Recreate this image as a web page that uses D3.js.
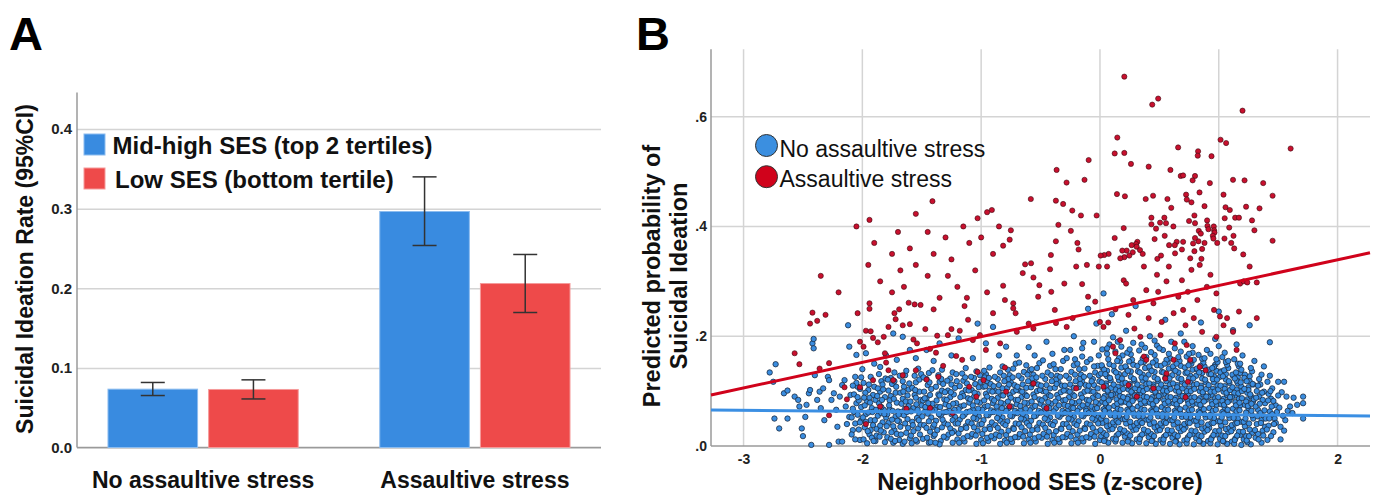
<!DOCTYPE html>
<html>
<head>
<meta charset="utf-8">
<script src="https://cdn.jsdelivr.net/npm/d3@7.9.0/dist/d3.min.js"></script>
<style>
  body { margin: 0; background: #fff; }
  svg { display: block; font-family: "Liberation Sans", Arial, sans-serif; }
</style>
</head>
<body>
<svg id="chart" width="1378" height="497"></svg>
<script>
// ---- panel A data ----
const groups = ["No assaultive stress", "Assaultive stress"];
const sesLevels = ["Mid-high SES (top 2 tertiles)", "Low SES (bottom tertile)"];
const rates = [[0.0733, 0.0729], [0.2965, 0.206]];
const ciLow = [[0.0653, 0.061], [0.2538, 0.1696]];
const ciHigh = [[0.0817, 0.085], [0.34, 0.2425]];
const rateTicks = [0, 0.1, 0.2, 0.3, 0.4];

// ---- panel B data ----
const sesTicks = [-3, -2, -1, 0, 1, 2];
const probTicks = [0, 0.2, 0.4, 0.6];
const stressLabels = ["No assaultive stress", "Assaultive stress"];
const fitNoStress = [[-3.274, 0.0656], [2.273, 0.0546]];
const fitStress = [[-3.274, 0.093], [2.273, 0.352]];

const noStressPoints = [
  // left tail
  [-2.78,.134],[-2.73,.149],[-2.75,.117],[-2.74,.05],[-2.70,.032],[-2.66,.096],[-2.63,.101],[-2.63,.05],[-2.57,.09],[-2.54,.084],
  [-2.53,.072],[-2.51,.032],[-2.50,.018],[-2.48,.053],[-2.47,.075],[-2.45,.096],[-2.44,.102],[-2.43,.002],[-2.42,.187],[-2.41,.195],
  [-2.41,.178],[-2.40,.129],[-2.38,.084],[-2.36,.099],[-2.35,.069],[-2.32,.047],[-2.29,.126],[-2.28,.12],[-2.26,.084],[-2.28,.002],
  [-2.24,.096],[-2.22,.066],[-2.21,.035],[-2.20,.008],[-2.17,.008],[-2.17,.111],[-2.14,.072],[-2.11,.053],[-2.10,.093],[-2.08,.029],
  [-2.06,.126],[-2.05,.078],[-2.04,.108],[-2.02,.011],[-2.01,.047],[-2.13,.04],[-2.19,.09],[-2.33,.105],[-2.07,.062],[-2.15,.12],
  [-2.09,.021],[-2.08,.068],[-2.07,.094],[-2.06,.041],[-2.05,.115],[-2.04,.057],[-2.03,.083],[-2.03,.03],[-2.02,.104],[-2.01,.071],
  [-2.09,.052],[-2.06,.012],[-2.04,.089],[-2.01,.125],[-2.08,.11],[-2.02,.043],
  // core
  [-1.99,.012],[-1.98,.034],[-1.97,.058],[-1.96,.081],[-1.95,.102],[-1.94,.021],[-1.93,.047],[-1.92,.069],[-1.91,.093],[-1.99,.115],
  [-1.96,.005],[-1.93,.126],[-1.91,.038],[-1.98,.074],[-1.94,.088],[-1.92,.015],[-1.95,.061],[-1.97,.044],[-1.90,.108],[-1.93,.029],
  [-1.89,.009],[-1.88,.031],[-1.87,.055],[-1.86,.078],[-1.85,.099],[-1.84,.118],[-1.83,.043],[-1.82,.066],[-1.81,.089],[-1.88,.019],
  [-1.86,.131],[-1.84,.071],[-1.82,.025],[-1.80,.052],[-1.87,.105],[-1.85,.037],[-1.83,.112],[-1.81,.007],[-1.89,.084],[-1.84,.060],
  [-1.79,.016],[-1.78,.042],[-1.77,.067],[-1.76,.091],[-1.75,.113],[-1.74,.006],[-1.73,.029],[-1.72,.054],[-1.71,.079],[-1.78,.101],
  [-1.76,.124],[-1.74,.036],[-1.72,.097],[-1.70,.063],[-1.77,.083],[-1.75,.048],[-1.73,.118],[-1.71,.022],[-1.79,.058],[-1.73,.134],[-1.76,.013],
  [-1.69,.011],[-1.68,.035],[-1.67,.062],[-1.66,.086],[-1.65,.108],[-1.64,.129],[-1.63,.024],[-1.62,.049],[-1.61,.073],[-1.68,.097],
  [-1.66,.118],[-1.64,.041],[-1.62,.092],[-1.60,.014],[-1.67,.077],[-1.65,.056],[-1.63,.137],[-1.61,.103],[-1.69,.045],[-1.64,.068],[-1.66,.004],
  [-1.59,.019],[-1.58,.044],[-1.57,.069],[-1.56,.093],[-1.55,.116],[-1.54,.008],[-1.53,.032],[-1.52,.058],[-1.51,.084],[-1.58,.106],
  [-1.56,.128],[-1.54,.051],[-1.52,.121],[-1.50,.074],[-1.57,.027],[-1.55,.088],[-1.53,.141],[-1.51,.039],[-1.59,.063],[-1.55,.011],[-1.52,.099],
  [-1.49,.013],[-1.48,.038],[-1.47,.064],[-1.46,.087],[-1.45,.111],[-1.44,.133],[-1.43,.026],[-1.42,.052],[-1.41,.077],[-1.48,.099],
  [-1.46,.122],[-1.44,.045],[-1.42,.104],[-1.40,.018],[-1.47,.071],[-1.45,.059],[-1.43,.093],[-1.41,.138],[-1.49,.083],[-1.44,.006],[-1.46,.033],
  [-1.39,.021],[-1.38,.046],[-1.37,.071],[-1.36,.094],[-1.35,.117],[-1.34,.009],[-1.33,.034],[-1.32,.061],[-1.31,.085],[-1.38,.108],
  [-1.36,.129],[-1.34,.055],[-1.32,.113],[-1.30,.076],[-1.37,.029],[-1.35,.092],[-1.33,.139],[-1.31,.042],[-1.39,.066],[-1.35,.003],[-1.33,.101],
  [-1.29,.015],[-1.28,.039],[-1.27,.065],[-1.26,.089],[-1.25,.112],[-1.24,.134],[-1.23,.027],[-1.22,.053],[-1.21,.078],[-1.28,.101],
  [-1.26,.123],[-1.24,.047],[-1.22,.106],[-1.20,.012],[-1.27,.073],[-1.25,.058],[-1.23,.094],[-1.21,.131],[-1.29,.084],[-1.24,.006],[-1.26,.032],
  [-1.19,.023],[-1.18,.048],[-1.17,.072],[-1.16,.096],[-1.15,.119],[-1.14,.008],[-1.13,.036],[-1.12,.062],[-1.11,.087],[-1.18,.109],
  [-1.16,.132],[-1.14,.057],[-1.12,.114],[-1.10,.079],[-1.17,.031],[-1.15,.091],[-1.13,.142],[-1.11,.044],[-1.19,.067],[-1.15,.014],[-1.13,.102],
  [-1.09,.017],[-1.08,.041],[-1.07,.066],[-1.06,.09],[-1.05,.113],[-1.04,.136],[-1.03,.028],[-1.02,.054],[-1.01,.079],[-1.08,.102],
  [-1.06,.124],[-1.04,.049],[-1.02,.107],[-1.00,.011],[-1.07,.074],[-1.05,.059],[-1.03,.095],[-1.01,.129],[-1.09,.085],[-1.04,.004],[-1.06,.034],
  [-.99,.022],[-.98,.047],[-.97,.071],[-.96,.095],[-.95,.118],[-.94,.009],[-.93,.035],[-.92,.061],[-.91,.086],[-.98,.108],
  [-.96,.131],[-.94,.056],[-.92,.113],[-.90,.078],[-.97,.03],[-.95,.09],[-.93,.143],[-.91,.043],[-.99,.066],[-.95,.015],[-.93,.101],[-.97,.125],
  [-.89,.014],[-.88,.038],[-.87,.064],[-.86,.088],[-.85,.111],[-.84,.134],[-.83,.026],[-.82,.052],[-.81,.077],[-.88,.1],
  [-.86,.122],[-.84,.046],[-.82,.105],[-.80,.01],[-.87,.072],[-.85,.057],[-.83,.093],[-.81,.128],[-.89,.083],[-.84,.004],[-.86,.033],[-.82,.145],
  [-.79,.02],[-.78,.045],[-.77,.069],[-.76,.093],[-.75,.116],[-.74,.007],[-.73,.033],[-.72,.059],[-.71,.084],[-.78,.106],
  [-.76,.129],[-.74,.054],[-.72,.111],[-.70,.076],[-.77,.028],[-.75,.088],[-.73,.141],[-.71,.041],[-.79,.064],[-.75,.013],[-.73,.099],[-.77,.122],[-.71,.15],
  [-.69,.016],[-.68,.04],[-.67,.065],[-.66,.089],[-.65,.112],[-.64,.135],[-.63,.027],[-.62,.053],[-.61,.078],[-.68,.101],
  [-.66,.123],[-.64,.048],[-.62,.106],[-.60,.012],[-.67,.073],[-.65,.058],[-.63,.094],[-.61,.13],[-.69,.084],[-.64,.005],[-.66,.034],[-.62,.147],[-.68,.152],
  [-.59,.021],[-.58,.046],[-.57,.07],[-.56,.094],[-.55,.117],[-.54,.008],[-.53,.034],[-.52,.06],[-.51,.085],[-.58,.107],
  [-.56,.13],[-.54,.055],[-.52,.112],[-.50,.077],[-.57,.029],[-.55,.089],[-.53,.142],[-.51,.042],[-.59,.065],[-.55,.014],[-.53,.1],[-.57,.123],[-.51,.151],[-.59,.138],
  [-.49,.015],[-.48,.039],[-.47,.064],[-.46,.088],[-.45,.111],[-.44,.134],[-.43,.026],[-.42,.052],[-.41,.077],[-.48,.1],
  [-.46,.122],[-.44,.047],[-.42,.105],[-.40,.011],[-.47,.072],[-.45,.057],[-.43,.093],[-.41,.129],[-.49,.083],[-.44,.004],[-.46,.033],[-.42,.146],[-.48,.156],[-.44,.068],
  [-.39,.02],[-.38,.044],[-.37,.069],[-.36,.093],[-.35,.116],[-.34,.007],[-.33,.032],[-.32,.058],[-.31,.083],[-.38,.106],
  [-.36,.128],[-.34,.053],[-.32,.11],[-.30,.075],[-.37,.027],[-.35,.087],[-.33,.14],[-.31,.04],[-.39,.063],[-.35,.013],[-.33,.098],[-.37,.121],[-.31,.155],[-.39,.149],
  [-.29,.016],[-.28,.04],[-.27,.065],[-.26,.089],[-.25,.112],[-.24,.135],[-.23,.027],[-.22,.053],[-.21,.078],[-.28,.101],
  [-.26,.123],[-.24,.048],[-.22,.106],[-.20,.012],[-.27,.073],[-.25,.058],[-.23,.094],[-.21,.13],[-.29,.084],[-.24,.005],[-.26,.034],[-.22,.147],[-.28,.16],[-.24,.069],[-.21,.158],
  [-.19,.021],[-.18,.045],[-.17,.07],[-.16,.094],[-.15,.117],[-.14,.008],[-.13,.033],[-.12,.059],[-.11,.084],[-.18,.107],
  [-.16,.13],[-.14,.054],[-.12,.111],[-.10,.076],[-.17,.028],[-.15,.088],[-.13,.141],[-.11,.041],[-.19,.064],[-.15,.014],[-.13,.099],[-.17,.122],[-.11,.153],[-.19,.15],[-.15,.163],[-.12,.068],
  [-.09,.015],[-.08,.039],[-.07,.064],[-.06,.088],[-.05,.111],[-.04,.134],[-.03,.026],[-.02,.052],[-.01,.077],[-.08,.1],
  [-.06,.122],[-.04,.047],[-.02,.105],[.00,.011],[-.07,.072],[-.05,.057],[-.03,.093],[-.01,.129],[-.09,.083],[-.04,.004],[-.06,.033],[-.02,.146],[-.08,.158],[-.04,.068],[-.01,.165],[-.07,.118],
  [.01,.018],[.02,.042],[.03,.067],[.04,.091],[.05,.114],[.06,.137],[.07,.006],[.08,.03],[.09,.056],[.02,.081],
  [.04,.104],[.06,.127],[.08,.149],[.01,.05],[.03,.024],[.05,.075],[.07,.098],[.09,.12],[.02,.143],[.04,.012],
  [.06,.036],[.08,.062],[.03,.087],[.05,.11],[.07,.158],[.09,.088],[.01,.132],[.06,.168],[.09,.038],[.04,.064],
  [.11,.013],[.12,.037],[.13,.061],[.14,.085],[.15,.108],[.16,.131],[.17,.154],[.18,.025],[.19,.049],[.12,.073],
  [.14,.097],[.16,.12],[.18,.143],[.11,.043],[.13,.008],[.15,.068],[.17,.091],[.19,.114],[.12,.137],[.14,.019],
  [.16,.055],[.18,.079],[.13,.103],[.15,.126],[.17,.031],[.19,.165],[.11,.094],[.16,.16],[.14,.046],[.19,.006],
  [.21,.017],[.22,.041],[.23,.066],[.24,.09],[.25,.113],[.26,.136],[.27,.005],[.28,.029],[.29,.055],[.22,.08],
  [.24,.103],[.26,.126],[.28,.148],[.21,.049],[.23,.023],[.25,.074],[.27,.097],[.29,.119],[.22,.142],[.24,.011],
  [.26,.035],[.28,.061],[.23,.086],[.25,.109],[.27,.157],[.29,.087],[.21,.131],[.26,.167],[.29,.037],[.24,.063],
  [.31,.012],[.32,.036],[.33,.06],[.34,.084],[.35,.107],[.36,.13],[.37,.153],[.38,.024],[.39,.048],[.32,.072],
  [.34,.096],[.36,.119],[.38,.142],[.31,.042],[.33,.007],[.35,.067],[.37,.09],[.39,.113],[.32,.136],[.34,.018],
  [.36,.054],[.38,.078],[.33,.102],[.35,.125],[.37,.03],[.39,.162],[.31,.093],[.36,.159],[.34,.045],[.39,.005],
  [.41,.016],[.42,.04],[.43,.065],[.44,.089],[.45,.112],[.46,.135],[.47,.004],[.48,.028],[.49,.054],[.42,.079],
  [.44,.102],[.46,.125],[.48,.147],[.41,.048],[.43,.022],[.45,.073],[.47,.096],[.49,.118],[.42,.141],[.44,.01],
  [.46,.034],[.48,.06],[.43,.085],[.45,.108],[.47,.156],[.49,.086],[.41,.13],[.46,.166],[.49,.036],[.44,.062],
  [.51,.011],[.52,.035],[.53,.059],[.54,.083],[.55,.106],[.56,.129],[.57,.152],[.58,.023],[.59,.047],[.52,.071],
  [.54,.095],[.56,.118],[.58,.141],[.51,.041],[.53,.006],[.55,.066],[.57,.089],[.59,.112],[.52,.135],[.54,.017],
  [.56,.053],[.58,.077],[.53,.101],[.55,.124],[.57,.029],[.59,.16],[.51,.092],[.56,.157],[.54,.044],[.59,.004],
  [.61,.015],[.62,.039],[.63,.064],[.64,.088],[.65,.111],[.66,.134],[.67,.003],[.68,.027],[.69,.053],[.62,.078],
  [.64,.101],[.66,.124],[.68,.146],[.61,.047],[.63,.021],[.65,.072],[.67,.095],[.69,.117],[.62,.14],[.64,.009],
  [.66,.033],[.68,.059],[.63,.084],[.65,.107],[.67,.155],[.69,.085],[.61,.129],[.66,.162],[.69,.035],[.64,.061],
  [.71,.01],[.72,.034],[.73,.058],[.74,.082],[.75,.105],[.76,.128],[.77,.15],[.78,.022],[.79,.046],[.72,.07],
  [.74,.094],[.76,.117],[.78,.139],[.71,.04],[.73,.005],[.75,.065],[.77,.088],[.79,.111],[.72,.133],[.74,.016],
  [.76,.052],[.78,.076],[.73,.1],[.75,.123],[.77,.028],[.79,.157],[.71,.091],[.76,.154],[.74,.043],[.79,.003],
  [.81,.014],[.82,.038],[.83,.063],[.84,.087],[.85,.11],[.86,.133],[.87,.004],[.88,.026],[.89,.052],[.82,.077],
  [.84,.1],[.86,.123],[.88,.145],[.81,.046],[.83,.02],[.85,.071],[.87,.094],[.89,.116],[.82,.139],[.84,.008],
  [.86,.032],[.88,.058],[.83,.083],[.85,.106],[.87,.152],[.89,.084],[.81,.128],[.86,.159],[.89,.034],[.84,.06],
  [.91,.009],[.92,.033],[.93,.057],[.94,.081],[.95,.104],[.96,.127],[.97,.148],[.98,.021],[.99,.045],[.92,.069],
  [.94,.093],[.96,.116],[.98,.137],[.91,.039],[.93,.005],[.95,.064],[.97,.087],[.99,.11],[.92,.131],[.94,.015],
  [.96,.051],[.98,.075],[.93,.099],[.95,.122],[.97,.027],[.99,.153],[.91,.09],[.96,.144],[.94,.042],[.99,.003],
  [1.01,.013],[1.02,.037],[1.03,.062],[1.04,.086],[1.05,.109],[1.06,.131],[1.07,.004],[1.08,.025],[1.09,.051],[1.02,.076],
  [1.04,.099],[1.06,.121],[1.08,.142],[1.01,.045],[1.03,.019],[1.05,.07],[1.07,.093],[1.09,.115],[1.02,.136],[1.04,.008],
  [1.06,.031],[1.08,.057],[1.03,.082],[1.05,.104],[1.07,.148],[1.09,.083],[1.01,.126],[1.06,.153],[1.09,.033],[1.04,.059],
  [1.11,.008],[1.12,.032],[1.13,.056],[1.14,.08],[1.15,.103],[1.16,.125],[1.17,.145],[1.18,.02],[1.19,.044],[1.12,.068],
  [1.14,.092],[1.16,.114],[1.18,.133],[1.11,.038],[1.13,.004],[1.15,.063],[1.17,.086],[1.19,.108],[1.12,.128],[1.14,.014],
  [1.16,.05],[1.18,.074],[1.13,.097],[1.15,.119],[1.17,.026],[1.19,.139],[1.11,.089],[1.16,.15],[1.14,.041],[1.19,.002],
  [1.21,.012],[1.22,.036],[1.23,.061],[1.24,.085],[1.25,.107],[1.26,.127],[1.27,.003],[1.28,.024],[1.29,.05],[1.22,.075],
  [1.24,.097],[1.26,.118],[1.28,.136],[1.21,.044],[1.23,.018],[1.25,.069],[1.27,.091],[1.29,.112],[1.22,.13],[1.24,.007],
  [1.26,.03],[1.28,.056],[1.23,.081],[1.25,.102],[1.27,.142],[1.29,.082],
  [1.31,.015],[1.32,.04],[1.33,.066],[1.34,.09],[1.35,.112],[1.36,.006],[1.37,.028],[1.38,.054],[1.39,.078],[1.32,.1],
  [1.34,.122],[1.36,.047],[1.38,.099],[1.31,.072],[1.33,.022],[1.35,.06],[1.37,.084],[1.39,.035],[1.36,.13],[1.33,.11],
  [1.41,.011],[1.42,.037],[1.43,.063],[1.44,.086],[1.45,.105],[1.46,.025],[1.47,.05],[1.48,.074],[1.42,.095],[1.44,.018],
  [1.46,.082],[1.48,.042],[1.41,.117],[1.43,.128],[1.45,.058],
  // core, second pass
  [-1.995,.052],[-1.975,.097],[-1.955,.027],[-1.935,.079],[-1.915,.062],[-1.905,.009],[-1.985,.088],[-1.945,.112],
  [-1.895,.047],[-1.875,.091],[-1.855,.017],[-1.835,.084],[-1.815,.058],[-1.805,.123],[-1.885,.066],[-1.845,.028],[-1.825,.103],
  [-1.795,.036],[-1.775,.074],[-1.755,.025],[-1.735,.086],[-1.715,.108],[-1.705,.046],[-1.785,.121],[-1.745,.064],[-1.725,.009],
  [-1.695,.057],[-1.675,.021],[-1.655,.099],[-1.635,.081],[-1.615,.033],[-1.605,.114],[-1.685,.128],[-1.645,.008],[-1.625,.062],
  [-1.595,.081],[-1.575,.038],[-1.555,.102],[-1.535,.066],[-1.515,.021],[-1.505,.131],[-1.585,.005],[-1.545,.076],[-1.525,.047],
  [-1.495,.054],[-1.475,.087],[-1.455,.015],[-1.435,.116],[-1.415,.065],[-1.405,.035],[-1.485,.125],[-1.445,.078],[-1.425,.007],
  [-1.395,.039],[-1.375,.083],[-1.355,.058],[-1.335,.122],[-1.315,.017],[-1.305,.098],[-1.385,.006],[-1.345,.071],[-1.325,.048],
  [-1.295,.062],[-1.275,.021],[-1.255,.098],[-1.235,.077],[-1.215,.041],[-1.205,.118],[-1.285,.119],[-1.245,.024],[-1.225,.066],
  [-1.195,.041],[-1.175,.089],[-1.155,.054],[-1.135,.125],[-1.115,.018],[-1.105,.101],[-1.185,.006],[-1.145,.074],[-1.125,.033],
  [-1.095,.063],[-1.075,.022],[-1.055,.097],[-1.035,.081],[-1.015,.039],[-1.005,.117],[-1.085,.126],[-1.045,.019],[-1.025,.068],[-1.065,.051],
  [-.995,.04],[-.975,.083],[-.955,.056],[-.935,.124],[-.915,.018],[-.905,.099],[-.985,.005],[-.945,.073],[-.925,.031],[-.965,.109],[-.915,.065],[-.975,.137],
  [-.895,.062],[-.875,.021],[-.855,.099],[-.835,.079],[-.815,.041],[-.805,.118],[-.885,.126],[-.845,.018],[-.825,.069],[-.865,.051],[-.815,.092],[-.895,.109],
  [-.795,.038],[-.775,.081],[-.755,.055],[-.735,.125],[-.715,.016],[-.705,.102],[-.785,.006],[-.745,.072],[-.725,.031],[-.765,.112],[-.715,.064],[-.775,.139],
  [-.695,.06],[-.675,.022],[-.655,.099],[-.635,.079],[-.615,.042],[-.605,.118],[-.685,.128],[-.645,.017],[-.625,.068],[-.665,.05],[-.615,.091],[-.695,.108],
  [-.595,.037],[-.575,.081],[-.555,.054],[-.535,.125],[-.515,.017],[-.505,.102],[-.585,.006],[-.545,.073],[-.525,.03],[-.565,.113],[-.515,.064],[-.575,.14],
  [-.495,.061],[-.475,.022],[-.455,.099],[-.435,.08],[-.415,.04],[-.405,.118],[-.485,.128],[-.445,.017],[-.425,.069],[-.465,.05],[-.415,.091],[-.495,.11],
  [-.395,.038],[-.375,.081],[-.355,.055],[-.335,.126],[-.315,.016],[-.305,.101],[-.385,.006],[-.345,.074],[-.325,.031],[-.365,.113],[-.315,.064],[-.375,.14],
  [-.295,.06],[-.275,.022],[-.255,.099],[-.235,.08],[-.215,.041],[-.205,.118],[-.285,.128],[-.245,.017],[-.225,.069],[-.265,.05],[-.215,.091],[-.295,.11],
  [-.195,.038],[-.175,.081],[-.155,.055],[-.135,.126],[-.115,.016],[-.105,.101],[-.185,.006],[-.145,.074],[-.125,.031],[-.165,.113],[-.115,.064],[-.175,.14],
  [-.095,.06],[-.075,.022],[-.055,.099],[-.035,.08],[-.015,.041],[-.005,.118],[-.085,.128],[-.045,.017],[-.025,.069],[-.065,.05],[-.015,.091],[-.095,.11],[-.05,.145],
  [.005,.029],[.025,.055],[.045,.078],[.065,.101],[.085,.124],[.015,.147],[.035,.009],[.055,.046],[.075,.07],[.095,.093],[.015,.116],[.035,.139],[.055,.02],[.075,.083],[.095,.106],[.045,.131],
  [.105,.031],[.125,.054],[.145,.077],[.165,.1],[.185,.123],[.115,.146],[.135,.012],[.155,.043],[.175,.066],[.195,.089],[.115,.112],[.135,.134],[.155,.022],[.175,.081],[.195,.104],[.145,.155],
  [.205,.028],[.225,.053],[.245,.076],[.265,.099],[.285,.122],[.215,.145],[.235,.008],[.255,.044],[.275,.068],[.295,.092],[.215,.115],[.235,.137],[.255,.019],[.275,.082],[.295,.105],[.245,.154],
  [.305,.03],[.325,.054],[.345,.077],[.365,.1],[.385,.123],[.315,.146],[.335,.013],[.355,.042],[.375,.066],[.395,.089],[.315,.112],[.335,.134],[.355,.021],[.375,.081],[.395,.104],[.345,.152],
  [.405,.027],[.425,.052],[.445,.076],[.465,.099],[.485,.122],[.415,.145],[.435,.009],[.455,.043],[.475,.067],[.495,.091],[.415,.114],[.435,.137],[.455,.018],[.475,.082],[.495,.105],[.445,.152],
  [.505,.029],[.525,.053],[.545,.077],[.565,.1],[.585,.123],[.515,.146],[.535,.012],[.555,.042],[.575,.066],[.595,.089],[.515,.112],[.535,.134],[.555,.02],[.575,.081],[.595,.104],[.545,.15],
  [.605,.028],[.625,.052],[.645,.076],[.665,.099],[.685,.122],[.615,.145],[.635,.008],[.655,.043],[.675,.067],[.695,.091],[.615,.114],[.635,.137],[.655,.018],[.675,.082],[.695,.105],[.645,.15],
  [.705,.03],[.725,.053],[.745,.077],[.765,.1],[.785,.123],[.715,.143],[.735,.012],[.755,.042],[.775,.066],[.795,.089],[.715,.112],[.735,.134],[.755,.02],[.775,.081],[.795,.104],[.745,.147],
  [.805,.027],[.825,.052],[.845,.075],[.865,.098],[.885,.121],[.815,.141],[.835,.009],[.855,.043],[.875,.067],[.895,.09],[.815,.113],[.835,.134],[.855,.018],[.875,.081],[.895,.104],[.845,.146],
  [.905,.029],[.925,.053],[.945,.076],[.965,.099],[.985,.121],[.915,.139],[.935,.012],[.955,.042],[.975,.066],[.995,.089],[.915,.111],[.935,.131],[.955,.02],[.975,.081],[.995,.103],[.945,.142],
  [1.005,.028],[1.025,.052],[1.045,.075],[1.065,.097],[1.085,.118],[1.015,.134],[1.035,.009],[1.055,.043],[1.075,.066],[1.095,.089],[1.015,.11],[1.035,.127],[1.055,.018],[1.075,.08],[1.095,.102],[1.045,.138],
  [1.105,.027],[1.125,.051],[1.145,.074],[1.165,.096],[1.185,.116],[1.115,.13],[1.135,.011],[1.155,.042],[1.175,.065],[1.195,.087],[1.115,.107],[1.135,.123],[1.155,.019],[1.175,.079],[1.195,.1],[1.145,.134],
  [1.205,.026],[1.225,.05],[1.245,.073],[1.265,.094],[1.285,.113],[1.215,.124],[1.235,.01],[1.255,.041],[1.275,.064],[1.295,.085],[1.215,.104],[1.235,.118],[1.255,.018],[1.275,.077],
  [1.305,.029],[1.325,.054],[1.345,.077],[1.365,.097],[1.385,.065],[1.315,.088],[1.335,.012],[1.355,.042],[1.375,.019],[1.395,.05],
  [1.405,.03],[1.425,.05],[1.445,.072],[1.465,.04],[1.415,.083],[1.435,.1],
  // top edge of the core
  [.02,.176],[.08,.185],[.13,.172],[.18,.181],[.23,.17],[.28,.188],[.33,.174],[.38,.179],[.43,.171],[.48,.183],
  [.53,.175],[.58,.168],[.63,.178],[.68,.172],[.73,.163],[.78,.17],[.83,.166],[.88,.16],[.93,.168],[.98,.158],
  [1.03,.162],[1.08,.155],[1.13,.158],[1.18,.15],[-.25,.175],[-.4,.168],[-.55,.165],[.11,.198],[.46,.192],[.71,.19],
  [1.0,.182],[-.15,.178],
  // right tail
  [1.50,.117],[1.52,.035],[1.55,.117],[1.56,.047],[1.60,.072],[1.63,.088],[1.71,.09],[1.71,.078],[1.71,.05],[1.49,.062],
  [1.53,.098],[1.51,.07],[1.54,.055],[1.58,.064],[1.57,.09],[1.62,.06],[1.52,.012],[1.55,.028],[1.66,.075],[1.50,.092],
  // sparse upper points
  [-2.12,.22],[-2.11,.181],[-2.05,.166],[-1.97,.169],[-1.85,.144],[-1.74,.205],[-1.71,.157],[-1.66,.199],[-1.55,.16],[-1.46,.175],
  [-1.35,.187],[-1.19,.196],[-1.07,.16],[-.96,.187],[-.90,.217],[-.79,.181],[-1.03,.223],[.03,.278],[1.43,.189],[1.26,.22],
  [1.12,.211],[-.14,.188],[-.03,.223],[.06,.178],[-.6,.18],[-.45,.19],[-.3,.175],[-.22,.2],[.15,.19],[.22,.21],
  [.35,.185],[.42,.2],[.5,.178],[.6,.19],[.68,.205],[.78,.182],[.9,.175],[.97,.195],[1.05,.17],[1.2,.165],
  [1.3,.155],[1.38,.145],[.1,.24],[.55,.23],[-.1,.25],[.85,.225],[-1.25,.165],[-1.6,.175],[-1.9,.15],[-2.0,.14],
  [.3,.255],[1.0,.245],[-.7,.165],[-.05,.19],[.25,.176],[.75,.168],[1.15,.185],[-.85,.165],[-1.4,.155],[-1.8,.165]
];

const stressPoints = [
  // upper right
  [.205,.673],[.44,.622],[.49,.633],[1.20,.611],[.146,.562],[.124,.533],[.205,.534],[.261,.514],[.41,.509],[.658,.544],
  [.826,.537],[.823,.529],[.939,.528],[1.015,.558],[1.062,.552],[1.605,.542],[-.095,.521],[-.365,.503],[-.281,.48],[-.13,.485],
  [-.582,.45],[-.371,.447],[-.31,.441],[-.233,.429],[-.16,.42],[-.028,.42],[-.35,.403],[-.245,.392],[-.371,.373],[-.19,.37],
  [-.18,.358],[-.75,.393],[-.76,.376],[-.815,.365],[-.413,.348],[.143,.459],[.21,.455],[.385,.45],[.447,.456],[.593,.503],
  [.568,.45],[.6,.434],[.68,.492],[.70,.493],[.80,.492],[.78,.484],[.838,.462],[.925,.479],[.725,.458],[.731,.449],
  [.77,.444],[.88,.437],[1.04,.458],[1.12,.485],[1.217,.484],[1.374,.479],[1.453,.456],[1.057,.435],[1.093,.43],[1.23,.436],
  [1.343,.433],[.795,.42],[.75,.41],[.80,.406],[.433,.416],[.433,.404],[.542,.416],[.506,.407],[.556,.406],[.472,.396],
  [.618,.40],[.902,.411],[.905,.401],[.958,.40],[.961,.393],[.964,.389],[.913,.395],[1.05,.415],[1.138,.416],[1.17,.416],
  [1.28,.411],[1.30,.393],[1.088,.398],[.832,.392],[.849,.387],[.545,.383],[.46,.377],[.95,.383],[.955,.378],[.987,.37],
  [1.048,.378],[1.124,.383],[1.105,.37],[1.13,.36],[1.206,.349],[1.453,.374],[.829,.373],[.80,.379],[.784,.369],[.88,.37],
  [.86,.359],[.795,.355],[.70,.372],[.646,.372],[.63,.366],[.582,.366],[.69,.358],[.632,.351],[.76,.342],[.854,.341],
  [.315,.372],[.304,.368],[.267,.366],[.309,.363],[.337,.357],[.225,.356],[.188,.356],[.276,.353],[.36,.35],[.247,.347],
  [.205,.344],[.171,.342],[.124,.379],[.20,.397],[.073,.35],[.036,.348],[.006,.347],[.483,.341],[.514,.347],
  // upper left
  [-2.35,.31],[-2.05,.40],[-1.95,.33],[-1.9,.37],[-1.85,.30],[-1.75,.35],[-1.7,.39],[-1.65,.29],[-1.6,.36],[-1.55,.33],
  [-1.45,.31],[-1.4,.35],[-1.35,.27],[-1.3,.38],[-1.25,.34],[-1.2,.29],[-1.15,.40],[-1.1,.37],[-1.05,.32],[-1.0,.38],
  [-.95,.28],[-.9,.35],[-.85,.40],[-1.75,.28],[-1.45,.39],[-1.28,.31],[-1.12,.27],[-2.2,.28],[-1.68,.32],
  [-1.94,.412],[-1.55,.423],[-1.41,.446],[-1.03,.415],[-.95,.426],[-.91,.43],
  // lower left
  [-2.42,.243],[-2.44,.223],[-2.38,.228],[-2.31,.239],[-2.57,.169],[-2.53,.149],[-2.36,.141],[-2.28,.151],[-2.28,.056],[-2.13,.085],
  [-2.04,.242],[-2.02,.19],[-1.99,.181],[-1.97,.21],[-1.94,.26],[-1.94,.25],[-1.93,.209],[-1.91,.197],[-1.87,.189],[-1.82,.199],
  [-1.81,.169],[-1.80,.152],[-1.78,.217],[-1.73,.242],[-1.72,.231],[-1.69,.249],[-1.66,.22],[-1.61,.261],[-1.60,.222],[-1.56,.258],
  [-1.57,.194],[-1.54,.187],[-1.51,.257],[-1.47,.213],[-1.43,.177],[-1.40,.249],[-1.38,.17],[-1.37,.201],[-1.32,.146],[-1.28,.202],
  [-1.25,.213],[-1.21,.164],[-1.18,.21],[-1.16,.157],[-1.14,.255],[-1.11,.23],[-1.07,.193],[-1.03,.135],[-1.01,.202],[-.98,.12],
  [-.96,.175],[-.90,.242],[-.84,.187],[-.80,.143],[-.73,.26],[-.70,.208],[-1.97,.04],[-1.85,.072],[-1.63,.068],[-1.43,.069],
  [-1.24,.06],[-1.04,.09],[-1.78,.138],[-1.74,.12],[-1.66,.129],[-1.55,.138],[-1.46,.121],[-1.36,.126],[-2.15,.107],[-2.02,.107],
  [-1.91,.12],[-1.10,.108],
  // lower right
  [-.815,.292],[-.80,.266],[-.73,.251],[-.71,.242],[-.65,.315],[-.63,.331],[-.58,.333],[-.56,.307],[-.52,.272],[-.51,.293],
  [-.60,.223],[-.56,.214],[-.41,.281],[-.42,.322],[-.38,.248],[-.37,.224],[-.30,.296],[-.28,.217],[-.23,.233],[-.20,.327],
  [-.15,.295],[-.11,.33],[-.10,.272],[-.04,.263],[-.01,.327],[.06,.327],[.0,.226],[.03,.217],[.07,.225],[.13,.249],
  [.13,.169],[.11,.181],[.17,.193],[.20,.302],[.22,.296],[.24,.239],[.28,.266],[.29,.214],[.34,.199],[.37,.327],
  [.39,.284],[.41,.233],[.45,.26],[.48,.312],[.49,.281],[.51,.202],[.52,.226],[.56,.30],[.58,.327],[.62,.242],
  [.63,.187],[.66,.272],[.69,.302],[.70,.248],[.72,.22],[.73,.184],[.74,.281],[.77,.321],[.79,.233],[.82,.266],
  [.84,.33],[.86,.208],[.90,.29],[.93,.312],[.96,.248],[.98,.278],[1.01,.236],[1.04,.22],[1.07,.233],[1.12,.208],
  [1.15,.175],[1.17,.245],[1.18,.296],[1.21,.30],[1.24,.298],[1.26,.327],[1.32,.298],[1.32,.233],[.98,.199],[.76,.157],
  [.84,.144],[.62,.157],[.37,.163],[.39,.157],[.03,.108],[-.20,.105],[.24,.111],[.31,.09],[.45,.105],[.56,.132],
  [.55,.123],[.72,.089],[.74,.117],[.89,.138],[-.45,.069],[-.56,.114],[-.76,.072],[-.79,.099]
];

// ---- styles ----
const blue = "#398be0", red = "#ee4a4a";
const dotBlue = "#3a8de0", dotRed = "#c8102e";
const gridColor = "#d4d4d4", axisColor = "#9a9a9a";

const svg = d3.select("#chart");
svg.append("rect").attr("width", 1378).attr("height", 497).attr("fill", "#fff");

// panel letters
svg.append("text").attr("x", 9).attr("y", 50).attr("font-size", 47).attr("font-weight", "bold").text("A");
svg.append("text").attr("x", 636).attr("y", 50).attr("font-size", 47).attr("font-weight", "bold").text("B");

// ================= panel A =================
const aLeft = 77, aRight = 601, aTop = 92.5, aBottom = 447.5;
const xA = d3.scaleBand().domain(groups).range([aLeft, aRight]).paddingInner(0.30).paddingOuter(0.114);
const xSub = d3.scaleBand().domain(d3.range(sesLevels.length)).range([0, xA.bandwidth()]).paddingInner(0.11);
const yA = d3.scaleLinear().domain([0, 0.446]).range([aBottom, aTop]);

const gA = svg.append("g");
gA.append("g")
  .attr("transform", `translate(${aLeft},0)`)
  .call(d3.axisLeft(yA).tickValues(rateTicks).tickFormat(d3.format(".1f")).tickSize(-(aRight - aLeft)).tickPadding(5))
  .attr("font-family", null)
  .call(g => g.select(".domain").remove())
  .call(g => g.selectAll(".tick line").attr("stroke", gridColor).attr("stroke-width", 1.5))
  .call(g => g.selectAll(".tick text").attr("font-size", 15).attr("font-weight", "bold").attr("fill", "#222"));

gA.append("line").attr("x1", aLeft).attr("x2", aLeft).attr("y1", aTop).attr("y2", aBottom)
  .attr("stroke", axisColor).attr("stroke-width", 1.5);
gA.append("line").attr("x1", aLeft).attr("x2", aRight).attr("y1", aBottom).attr("y2", aBottom)
  .attr("stroke", axisColor).attr("stroke-width", 1.5);

const barData = [];
groups.forEach((g, i) => sesLevels.forEach((s, j) => {
  barData.push({ group: g, j, value: rates[i][j], lo: ciLow[i][j], hi: ciHigh[i][j] });
}));

gA.selectAll("rect.bar").data(barData).join("rect")
  .attr("class", "bar")
  .attr("x", d => xA(d.group) + xSub(d.j))
  .attr("y", d => yA(d.value))
  .attr("width", xSub.bandwidth())
  .attr("height", d => yA(0) - yA(d.value))
  .attr("fill", d => d.j === 0 ? blue : red)
  .attr("stroke", d => d.j === 0 ? "#8cbcef" : "#f59a9a")
  .attr("stroke-width", 1);

const cap = 12;
const err = gA.selectAll("g.err").data(barData).join("g").attr("class", "err")
  .attr("stroke", "#333").attr("stroke-width", 1.5);
err.append("line")
  .attr("x1", d => xA(d.group) + xSub(d.j) + xSub.bandwidth() / 2)
  .attr("x2", d => xA(d.group) + xSub(d.j) + xSub.bandwidth() / 2)
  .attr("y1", d => yA(d.lo)).attr("y2", d => yA(d.hi));
err.selectAll("line.cap").data(d => [d.lo, d.hi].map(v => ({ d, v }))).join("line")
  .attr("class", "cap")
  .attr("x1", e => xA(e.d.group) + xSub(e.d.j) + xSub.bandwidth() / 2 - cap)
  .attr("x2", e => xA(e.d.group) + xSub(e.d.j) + xSub.bandwidth() / 2 + cap)
  .attr("y1", e => yA(e.v)).attr("y2", e => yA(e.v));

// category labels
gA.selectAll("text.cat").data(groups).join("text")
  .attr("class", "cat")
  .attr("x", d => xA(d) + xA.bandwidth() / 2)
  .attr("y", 488)
  .attr("text-anchor", "middle")
  .attr("font-size", 23).attr("font-weight", "bold").attr("fill", "#111")
  .text(d => d);

gA.append("text")
  .attr("transform", "translate(33,269) rotate(-90)")
  .attr("text-anchor", "middle")
  .attr("font-size", 23).attr("font-weight", "bold").attr("fill", "#111")
  .text("Suicidal Ideation Rate (95%CI)");

// legend A
const legA = gA.selectAll("g.leg").data(sesLevels).join("g").attr("class", "leg");
legA.append("rect")
  .attr("x", 84).attr("y", (d, i) => 134 + i * 34)
  .attr("width", 21).attr("height", 21)
  .attr("fill", (d, i) => i === 0 ? blue : red)
  .attr("stroke", (d, i) => i === 0 ? "#8cbcef" : "#f59a9a");
legA.append("text")
  .attr("x", (d, i) => i === 0 ? 112.5 : 115)
  .attr("y", (d, i) => 154 + i * 34)
  .attr("font-size", 24).attr("font-weight", "bold").attr("fill", "#111")
  .text(d => d);

// ================= panel B =================
const bLeft = 711, bRight = 1370, bTop = 49.3, bBottom = 446;
const xB = d3.scaleLinear().domain([-3.274, 2.273]).range([bLeft, bRight]);
const yB = d3.scaleLinear().domain([0, 0.7228]).range([bBottom, bTop]);

const gB = svg.append("g");
gB.selectAll("line.vgrid").data(sesTicks).join("line")
  .attr("class", "vgrid")
  .attr("x1", d => xB(d)).attr("x2", d => xB(d))
  .attr("y1", bTop).attr("y2", bBottom)
  .attr("stroke", gridColor).attr("stroke-width", 1.5);
gB.selectAll("line.hgrid").data(probTicks.filter(d => d > 0)).join("line")
  .attr("class", "hgrid")
  .attr("x1", bLeft).attr("x2", bRight)
  .attr("y1", d => yB(d)).attr("y2", d => yB(d))
  .attr("stroke", gridColor).attr("stroke-width", 1.5);

gB.append("g")
  .attr("transform", `translate(0,${bBottom})`)
  .call(d3.axisBottom(xB).tickValues(sesTicks).tickFormat(d => String(d)).tickSize(0).tickPadding(8))
  .attr("font-family", null)
  .call(g => g.select(".domain").remove())
  .call(g => g.selectAll(".tick text").attr("font-size", 14).attr("font-weight", "bold").attr("fill", "#222"));
gB.append("g")
  .attr("transform", `translate(${bLeft},0)`)
  .call(d3.axisLeft(yB).tickValues(probTicks).tickFormat(d => d3.format(".1f")(d).replace(/^0/, "")).tickSize(0).tickPadding(4))
  .attr("font-family", null)
  .call(g => g.select(".domain").remove())
  .call(g => g.selectAll(".tick text").attr("font-size", 14).attr("font-weight", "bold").attr("fill", "#222"));

gB.append("line").attr("x1", bLeft).attr("x2", bLeft).attr("y1", bTop).attr("y2", bBottom)
  .attr("stroke", axisColor).attr("stroke-width", 1.5);
gB.append("line").attr("x1", bLeft).attr("x2", bRight).attr("y1", bBottom).attr("y2", bBottom)
  .attr("stroke", axisColor).attr("stroke-width", 1.5);

// scatter
gB.append("g").selectAll("circle").data(noStressPoints).join("circle")
  .attr("cx", d => xB(d[0])).attr("cy", d => yB(d[1])).attr("r", 2.7)
  .attr("fill", dotBlue).attr("stroke", "#1a2c42").attr("stroke-width", 0.8);
gB.append("g").selectAll("circle").data(stressPoints).join("circle")
  .attr("cx", d => xB(d[0])).attr("cy", d => yB(d[1])).attr("r", 2.6)
  .attr("fill", dotRed).attr("stroke", "#3a0a10").attr("stroke-width", 0.6);

// fit lines
const line = d3.line().x(d => xB(d[0])).y(d => yB(d[1]));
gB.append("path").attr("d", line(fitNoStress)).attr("fill", "none").attr("stroke", "#3b8fe3").attr("stroke-width", 3);
gB.append("path").attr("d", line(fitStress)).attr("fill", "none").attr("stroke", "#d0021b").attr("stroke-width", 3);

// legend B
const legB = gB.selectAll("g.legb").data(stressLabels).join("g").attr("class", "legb");
legB.append("circle")
  .attr("cx", 766.5).attr("cy", (d, i) => 145.5 + i * 31.2).attr("r", 11)
  .attr("fill", (d, i) => i === 0 ? "#3b8fe0" : "#d0021b")
  .attr("stroke", "#333").attr("stroke-width", 1);
legB.append("text")
  .attr("x", 779.5).attr("y", (d, i) => 156.7 + i * 30)
  .attr("font-size", 23).attr("fill", "#111")
  .text(d => d);

// axis titles B
gB.append("text")
  .attr("x", 1040).attr("y", 490)
  .attr("text-anchor", "middle")
  .attr("font-size", 24).attr("font-weight", "bold").attr("fill", "#111")
  .text("Neighborhood SES (z-score)");
const yTitle = gB.append("text")
  .attr("transform", "translate(660,276) rotate(-90)")
  .attr("text-anchor", "middle")
  .attr("font-size", 23.5).attr("font-weight", "bold").attr("fill", "#111");
yTitle.append("tspan").attr("x", 0).attr("y", 0).text("Predicted probability of");
yTitle.append("tspan").attr("x", 0).attr("y", 27).text("Suicidal Ideation");
</script>
</body>
</html>
